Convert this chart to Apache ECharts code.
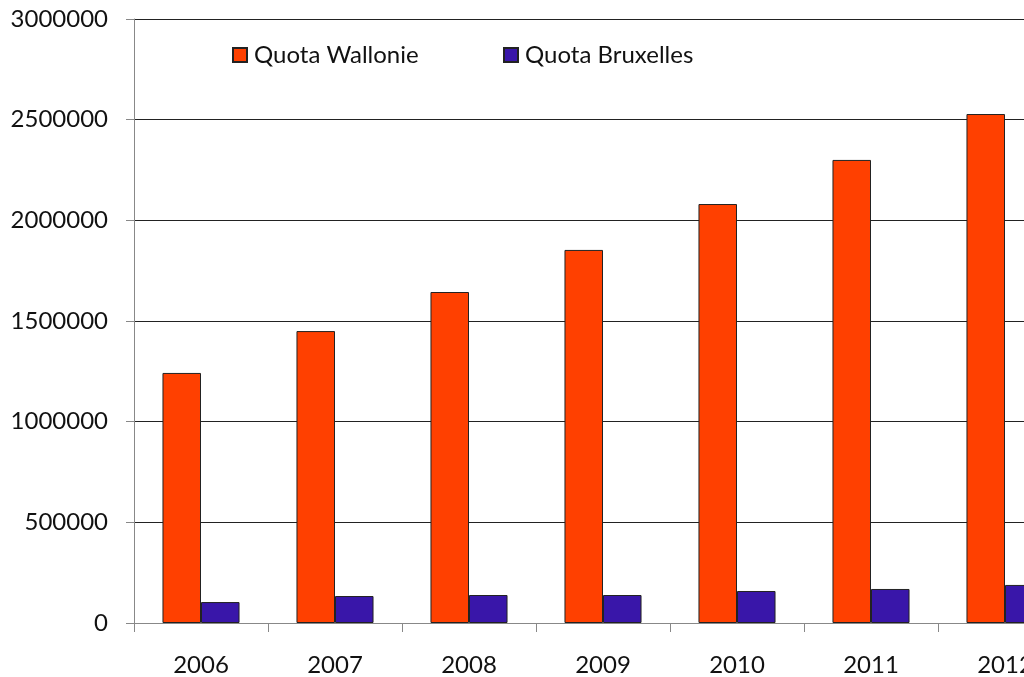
<!DOCTYPE html>
<html><head><meta charset="utf-8">
<script src="https://cdn.jsdelivr.net/npm/echarts@6/dist/echarts.min.js"></script>
<style>html,body{margin:0;padding:0;background:#fff;overflow:hidden;width:1024px;height:677px}#c{width:1072px;height:677px}</style>
</head><body><div id="c"></div>
<script>
const categories = ['2006','2007','2008','2009','2010','2011','2012'];
const wallonie = [1242000, 1450000, 1644000, 1853000, 2081000, 2300000, 2528000];
const bruxelles = [104000, 134000, 139000, 139000, 159000, 169000, 189000];
const seriesNames = ['Quota Wallonie', 'Quota Bruxelles'];
const yTicks = {min: 0, max: 3000000, interval: 500000};

const FONT = 'Lato, "Open Sans", sans-serif';
const legendBase = {
  top: 38, itemWidth: 14, itemHeight: 14, icon: 'rect',
  textStyle: {fontFamily: FONT, fontSize: 24, color: '#111', padding: [0,0,0,2]}
};
const chart = echarts.init(document.getElementById('c'), null, {renderer: 'canvas'});
chart.setOption({
  animation: false,
  backgroundColor: '#fff',
  legend: [
    Object.assign({}, legendBase, {left: 227, data: [seriesNames[0]]}),
    Object.assign({}, legendBase, {left: 498, data: [seriesNames[1]]})
  ],
  grid: {left: 134, top: 19, right: 0, bottom: 54, containLabel: false},
  xAxis: {
    type: 'category', data: categories,
    axisLine: {lineStyle: {color: '#888', width: 1}},
    axisTick: {show: true, length: 9, lineStyle: {color: '#888'}},
    axisLabel: {fontFamily: FONT, fontSize: 24, color: '#111', margin: 30}
  },
  yAxis: {
    type: 'value', min: yTicks.min, max: yTicks.max, interval: yTicks.interval,
    axisLine: {show: true, lineStyle: {color: '#888'}},
    axisTick: {show: true, length: 8, lineStyle: {color: '#888'}},
    axisLabel: {fontFamily: FONT, fontSize: 24, color: '#111', margin: 26, formatter: v => String(v)},
    splitLine: {lineStyle: {color: '#222', width: 1}}
  },
  series: [
    {name: seriesNames[0], type: 'bar', data: wallonie, barGap: '0%', barCategoryGap: '42.5%',
     itemStyle: {color: '#FF4000', borderColor: '#222', borderWidth: 1}},
    {name: seriesNames[1], type: 'bar', data: bruxelles, barGap: '0%', barCategoryGap: '42.5%',
     itemStyle: {color: '#3916A9', borderColor: '#222', borderWidth: 1}}
  ]
});
</script></body></html>
